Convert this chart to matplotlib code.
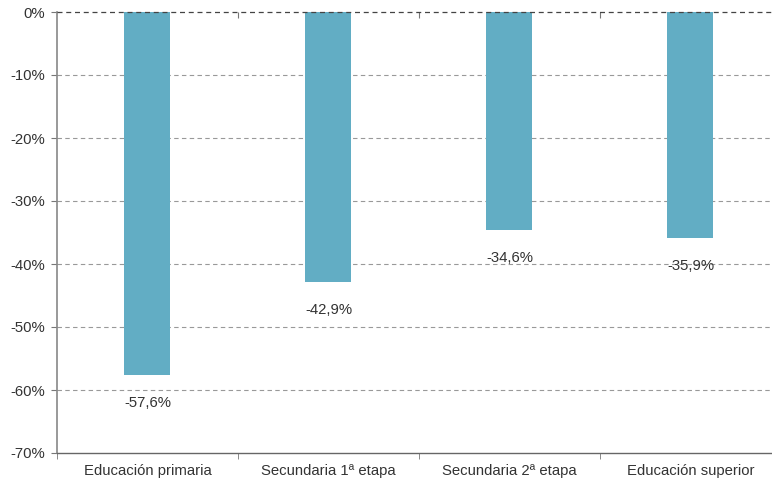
import numpy as np
import matplotlib
matplotlib.use("Agg")
import matplotlib.pyplot as plt
from matplotlib.ticker import FixedLocator, FuncFormatter

plt.rcParams["font.family"] = ["Liberation Sans", "DejaVu Sans"]

categories = ["Educación primaria", "Secundaria 1ª etapa",
              "Secundaria 2ª etapa", "Educación superior"]
values = [-57.6, -42.9, -34.6, -35.9]
labels = ["-57,6%", "-42,9%", "-34,6%", "-35,9%"]
yticks = [0, -10, -20, -30, -40, -50, -60, -70]

bar_color = "#62adc4"
text_color = "#333333"
fs = 10.7

fig = plt.figure(figsize=(7.72, 4.8), dpi=100)
ax = fig.add_axes([0.0738, 0.05625, 0.9378, 0.91875])

x = np.arange(len(categories))
ax.bar(x, values, width=0.254, color=bar_color, zorder=3)

for xi, v, lab in zip(x, values, labels):
    ax.annotate(lab, (xi, v), xytext=(0, -20), textcoords="offset points",
                ha="center", va="center", fontsize=fs, color=text_color)

ax.set_xlim(-0.5, len(categories) - 0.5)
ax.set_ylim(-70, 0)
ax.set_yticks(yticks)
ax.yaxis.set_major_formatter(FuncFormatter(lambda v, p: f"{v:.0f}%"))

# gridlines
for t in yticks[1:-1]:
    ax.axhline(t, color="#999999", lw=0.8, ls=(0, (4, 3)), zorder=1)
ax.axhline(0, color="#444444", lw=0.9, ls=(0, (4, 3)), zorder=4, clip_on=False)

ax.set_xticks(x)
ax.set_xticklabels(categories)
ax.xaxis.set_minor_locator(FixedLocator(np.arange(-0.5, len(categories), 1.0)))
ax.tick_params(axis="x", which="major", length=0, pad=8, labelsize=fs,
               labelcolor=text_color)
ax.tick_params(axis="x", which="minor", length=4, color="#777777", direction="out")
ax.tick_params(axis="y", length=4, color="#777777", labelsize=fs,
               labelcolor=text_color, pad=4.5)

sec = ax.secondary_xaxis("top")
sec.set_xticks(np.arange(0.5, len(categories) - 1, 1.0))
sec.tick_params(direction="in", length=4, color="#777777", labeltop=False)
sec.spines["top"].set_visible(False)

for s in ["top", "right"]:
    ax.spines[s].set_visible(False)
ax.spines["left"].set_color("#888888")
ax.spines["left"].set_linewidth(1.2)
ax.spines["bottom"].set_color("#666666")
ax.spines["bottom"].set_linewidth(1.0)

fig.savefig("out.png", dpi=100)
